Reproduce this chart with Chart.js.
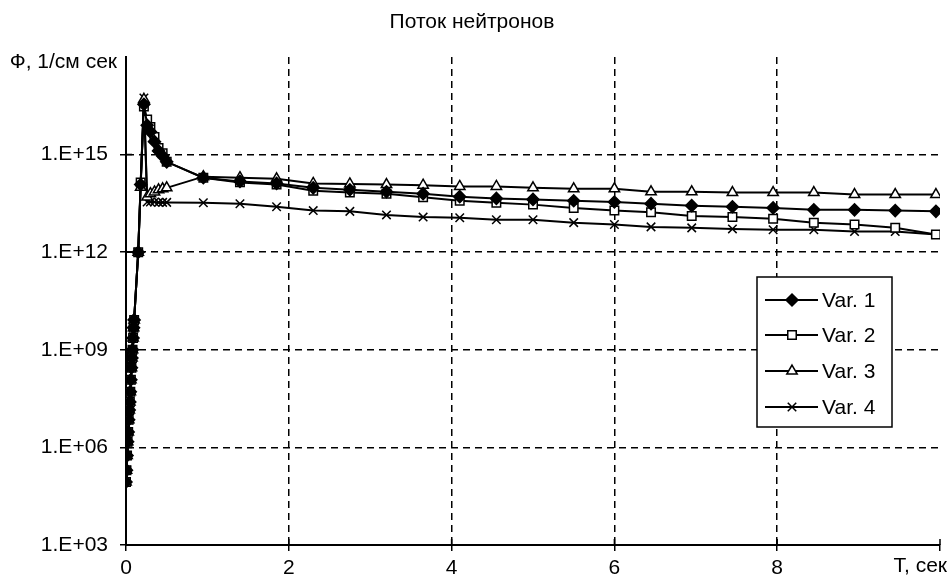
<!DOCTYPE html>
<html>
<head>
<meta charset="utf-8">
<title>Поток нейтронов</title>
<script src="https://cdn.jsdelivr.net/npm/chart.js@4.4.1/dist/chart.umd.min.js"></script>
<style>
    html, body { margin: 0; padding: 0; background: #fff; }
    #wrap { width: 949px; height: 587px; }
</style>
</head>
<body>
<div id="wrap"><canvas id="fluxChart" width="949" height="587"></canvas></div>
<script>
// Chart texts
const chartTitle = 'Поток нейтронов';
const yAxisTitle = 'Ф, 1/см сек';
const xAxisTitle = 'T, сек';
const seriesNames = ['Var. 1', 'Var. 2', 'Var. 3', 'Var. 4'];
const seriesMarkers = ['rectRot', 'rect', 'triangle', 'crossRot'];

// Axis ticks
const xTicks = [0, 2, 4, 6, 8];
const yTicks = [1e3, 1e6, 1e9, 1e12, 1e15];

// Time, sec
const times = [0, 0.006, 0.013, 0.02, 0.027, 0.033, 0.04, 0.047, 0.053, 0.06, 0.067, 0.073, 0.08, 0.087, 0.093, 0.1,
    0.15, 0.18, 0.22, 0.26, 0.3, 0.35, 0.4, 0.45, 0.5,
    0.95, 1.4, 1.85, 2.3, 2.75, 3.2, 3.65, 4.1, 4.55, 5.0, 5.5, 6.0, 6.45, 6.95, 7.45, 7.95, 8.45, 8.95, 9.45, 9.95];

// Neutron flux, 1/cm2 sec
const var1 = [8.7e4, 2.0e5, 5.6e5, 1.5e6, 3.0e6, 7.1e6, 1.4e7, 2.5e7, 5.1e7, 1.2e8, 2.8e8, 5.6e8, 1.0e9, 2.3e9, 4.8e9, 8.3e9,
    1.0e12, 1.2e14, 3.5e16, 8.0e15, 5.0e15, 2.5e15, 1.3e15, 9.0e14, 6.0e14,
    1.95e14, 1.5e14, 1.3e14, 9.5e13, 8.3e13, 7.2e13, 6.3e13, 5.1e13, 4.5e13, 4.2e13, 3.8e13, 3.5e13, 3.1e13, 2.7e13, 2.5e13, 2.3e13, 2.0e13, 2.0e13, 1.9e13, 1.8e13];
const var2 = [8.7e4, 2.0e5, 5.6e5, 1.5e6, 3.0e6, 7.1e6, 1.4e7, 2.5e7, 5.1e7, 1.2e8, 2.8e8, 5.6e8, 1.0e9, 2.3e9, 4.8e9, 8.3e9,
    1.0e12, 1.4e14, 3.0e16, 1.2e16, 7.0e15, 3.5e15, 1.6e15, 1.1e15, 6.0e14,
    1.95e14, 1.4e14, 1.2e14, 7.8e13, 6.8e13, 6.3e13, 4.9e13, 3.8e13, 3.3e13, 2.9e13, 2.3e13, 1.9e13, 1.7e13, 1.3e13, 1.2e13, 1.07e13, 8.1e12, 7.1e12, 5.6e12, 3.5e12];
const var3 = [8.7e4, 2.0e5, 5.6e5, 1.5e6, 3.0e6, 7.1e6, 1.4e7, 2.5e7, 5.1e7, 1.2e8, 2.8e8, 5.6e8, 1.0e9, 2.3e9, 4.8e9, 8.3e9,
    1.0e12, 1.0e14, 5.0e16, 5.0e13, 6.3e13, 7.1e13, 8.3e13, 8.9e13, 9.5e13,
    2.1e14, 1.95e14, 1.8e14, 1.3e14, 1.25e14, 1.2e14, 1.15e14, 1.05e14, 1.05e14, 9.5e13, 8.9e13, 8.9e13, 7.2e13, 7.2e13, 6.8e13, 6.8e13, 6.8e13, 5.9e13, 5.9e13, 5.9e13];
const var4 = [8.7e4, 2.0e5, 5.6e5, 1.5e6, 3.0e6, 7.1e6, 1.4e7, 2.5e7, 5.1e7, 1.2e8, 2.8e8, 5.6e8, 1.0e9, 2.3e9, 4.8e9, 8.3e9,
    1.0e12, 1.2e14, 5.5e16, 3.5e13, 3.5e13, 3.5e13, 3.4e13, 3.4e13, 3.4e13,
    3.3e13, 3.1e13, 2.5e13, 1.9e13, 1.8e13, 1.4e13, 1.2e13, 1.15e13, 1.0e13, 1.0e13, 8.1e12, 7.1e12, 6.0e12, 5.6e12, 5.2e12, 4.9e12, 4.9e12, 4.3e12, 4.3e12, 3.5e12];

const fontFamily = '"Liberation Sans", Arial, sans-serif';
Chart.defaults.font.family = fontFamily;
Chart.defaults.font.size = 21;
Chart.defaults.color = '#000';

function toPoints(values) {
    return values.map((v, i) => ({ x: times[i], y: v }));
}

function formatExp(value) {
    const exp = Math.round(Math.log10(value));
    return '1.E+' + String(exp).padStart(2, '0');
}

// draws one marker the same way in the legend
function drawMarker(ctx, style, x, y, r) {
    ctx.save();
    ctx.lineWidth = 1.5;
    ctx.strokeStyle = '#000';
    ctx.beginPath();
    if (style === 'rectRot') {
        ctx.moveTo(x, y - r);
        ctx.lineTo(x + r, y);
        ctx.lineTo(x, y + r);
        ctx.lineTo(x - r, y);
        ctx.closePath();
        ctx.fillStyle = '#000';
        ctx.fill();
        ctx.stroke();
    } else if (style === 'rect') {
        const s = r * Math.SQRT1_2;
        ctx.rect(x - s, y - s, 2 * s, 2 * s);
        ctx.fillStyle = '#fff';
        ctx.fill();
        ctx.stroke();
    } else if (style === 'triangle') {
        ctx.moveTo(x, y - r);
        ctx.lineTo(x + r * Math.sin(2 * Math.PI / 3), y + r / 2);
        ctx.lineTo(x - r * Math.sin(2 * Math.PI / 3), y + r / 2);
        ctx.closePath();
        ctx.fillStyle = '#fff';
        ctx.fill();
        ctx.stroke();
    } else {
        const d = r * Math.SQRT1_2;
        ctx.moveTo(x - d, y - d);
        ctx.lineTo(x + d, y + d);
        ctx.moveTo(x - d, y + d);
        ctx.lineTo(x + d, y - d);
        ctx.stroke();
    }
    ctx.restore();
}

// inner halves of the tick marks (ticks cross the axes)
const innerTicks = {
    id: 'innerTicks',
    afterDraw(chart) {
        const ctx = chart.ctx;
        const area = chart.chartArea;
        const xs = chart.scales.x, ys = chart.scales.y;
        ctx.save();
        ctx.strokeStyle = '#000';
        ctx.lineWidth = 1.5;
        ctx.beginPath();
        yTicks.forEach(v => {
            const y = ys.getPixelForValue(v);
            ctx.moveTo(area.left, y);
            ctx.lineTo(area.left + 6, y);
        });
        xTicks.concat([10]).forEach(v => {
            const x = xs.getPixelForValue(v);
            ctx.moveTo(x, area.bottom);
            ctx.lineTo(x, area.bottom - 6);
        });
        ctx.stroke();
        ctx.restore();
    }
};

// title, axis names and the boxed legend
const textPlugin = {
    id: 'textPlugin',
    afterDraw(chart) {
        const ctx = chart.ctx;
        ctx.save();
        ctx.fillStyle = '#000';
        ctx.textBaseline = 'middle';

        ctx.font = '21px ' + fontFamily;
        ctx.textAlign = 'center';
        ctx.fillText(chartTitle, 472, 22);

        ctx.textAlign = 'right';
        ctx.fillText(yAxisTitle, 117, 62);

        ctx.fillText(xAxisTitle, 947, 566);

        // legend box
        const bx = 757, by = 277, bw = 135, bh = 150;
        ctx.fillStyle = '#fff';
        ctx.fillRect(bx, by, bw, bh);
        ctx.lineWidth = 1.5;
        ctx.strokeStyle = '#000';
        ctx.strokeRect(bx, by, bw, bh);

        const rowsY = [300, 335, 371, 407];
        ctx.textAlign = 'left';
        seriesNames.forEach((name, i) => {
            const y = rowsY[i];
            ctx.lineWidth = 2;
            ctx.beginPath();
            ctx.moveTo(765, y);
            ctx.lineTo(818, y);
            ctx.stroke();
            drawMarker(ctx, seriesMarkers[i], 792, y, 6);
            ctx.fillStyle = '#000';
            ctx.fillText(name, 822, y + 1);
        });
        ctx.restore();
    }
};

const datasets = [var1, var2, var3, var4].map((values, i) => ({
    label: seriesNames[i],
    data: toPoints(values),
    borderColor: '#000',
    borderWidth: 2,
    backgroundColor: i === 0 ? '#000' : '#fff',
    pointStyle: seriesMarkers[i],
    pointRadius: 6,
    pointBorderWidth: 1.5,
    pointBorderColor: '#000',
    pointBackgroundColor: i === 0 ? '#000' : '#fff',
    tension: 0,
    fill: false
}));

const ctx = document.getElementById('fluxChart').getContext('2d');
const chart = new Chart(ctx, {
    type: 'line',
    data: { datasets: datasets },
    options: {
        responsive: false,
        animation: false,
        layout: { padding: { left: 0, right: 9, top: 57, bottom: 0 } },
        plugins: {
            legend: { display: false },
            title: { display: false },
            tooltip: { enabled: false }
        },
        scales: {
            x: {
                type: 'linear',
                min: 0,
                max: 10,
                afterBuildTicks: scale => {
                    scale.ticks = xTicks.concat([10]).map(v => ({ value: v }));
                },
                afterFit: scale => { scale.height = 42; },
                ticks: {
                    padding: 5,
                    maxRotation: 0,
                    callback: v => (v === 10 ? '' : String(v))
                },
                grid: {
                    color: c => (c.tick && (c.tick.value === 0 || c.tick.value === 10) ? 'rgba(0,0,0,0)' : '#000'),
                    lineWidth: 1.5,
                    tickColor: '#000',
                    tickLength: 6,
                    tickWidth: 1.5
                },
                border: { display: true, color: '#000', width: 2, dash: [7, 5] }
            },
            y: {
                type: 'logarithmic',
                min: 1e3,
                max: 1e18,
                afterBuildTicks: scale => {
                    scale.ticks = yTicks.map(v => ({ value: v }));
                },
                afterFit: scale => { scale.width = 126; },
                ticks: {
                    padding: 12,
                    callback: v => formatExp(v)
                },
                grid: {
                    color: c => (c.tick && c.tick.value === 1e3 ? 'rgba(0,0,0,0)' : '#000'),
                    lineWidth: 1.5,
                    tickColor: '#000',
                    tickLength: 6,
                    tickWidth: 1.5
                },
                border: { display: true, color: '#000', width: 2, dash: [7, 5] }
            }
        }
    },
    plugins: [innerTicks, textPlugin]
});
</script>
</body>
</html>
